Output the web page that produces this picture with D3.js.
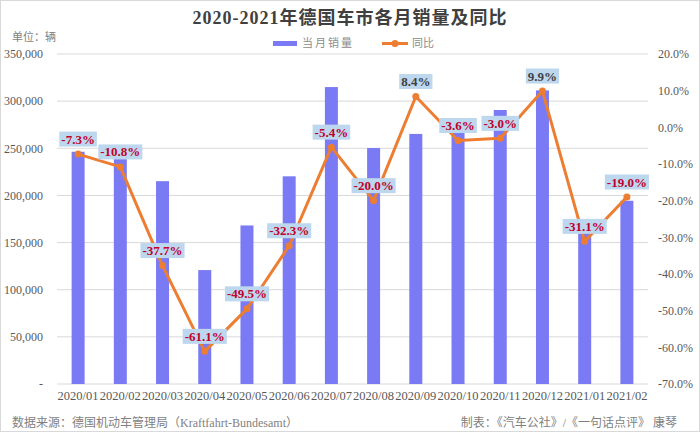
<!DOCTYPE html>
<html><head><meta charset="utf-8">
<script src="https://cdn.jsdelivr.net/npm/d3@7"></script>
<style>body{margin:0;background:#fff}svg{display:block}</style>
</head><body><svg id="c" width="700" height="432"></svg>
<script>
const months = ["2020/01","2020/02","2020/03","2020/04","2020/05","2020/06","2020/07","2020/08","2020/09","2020/10","2020/11","2020/12","2021/01","2021/02"];
const sales = [246300,239943,215119,120840,168148,220272,314938,250250,265227,271348,290604,311394,169754,194349];
const yoy = [-7.3,-10.8,-37.7,-61.1,-49.5,-32.3,-5.4,-20.0,8.4,-3.6,-3.0,9.9,-31.1,-19.0];
const leftTicks = [0,50000,100000,150000,200000,250000,300000,350000];
const rightTicks = [-70,-60,-50,-40,-30,-20,-10,0,10,20];
const title = "2020-2021年德国车市各月销量及同比";
const unitText = "单位：辆";
const sourceText = "数据来源：德国机动车管理局（Kraftfahrt-Bundesamt）";
const creditText = "制表：《汽车公社》/《一句话点评》 康琴";
const legendNames = ["当月销量","同比"];

const serif = "'Liberation Serif','Times New Roman','Noto Sans CJK SC',serif";
const svg = d3.select("#c");
svg.append("rect").attr("x",0.5).attr("y",0.5).attr("width",699).attr("height",431)
  .attr("fill","#fff").attr("stroke","#d9d9d9");

const L = 57, R = 648, T = 54, B = 384;
const x = d3.scaleBand().domain(months).range([L,R]);
const yL = d3.scaleLinear().domain([0,350000]).range([B,T]);
const yR = d3.scaleLinear().domain([-70,20]).range([B,T]);

// gridlines
svg.append("g").selectAll("line").data(leftTicks).join("line")
  .attr("x1",L).attr("x2",R).attr("y1",d=>yL(d)).attr("y2",d=>yL(d))
  .attr("stroke","#d9d9d9").attr("stroke-width",1);

// left axis
const axL = svg.append("g").attr("transform",`translate(${L},0)`)
  .call(d3.axisLeft(yL).tickValues(leftTicks).tickSize(0).tickPadding(14)
    .tickFormat(d=> d===0 ? "-" : d3.format(",")(d)));
axL.select(".domain").remove();
axL.selectAll("text").attr("font-family",serif).attr("font-size",12).attr("fill","#595959");

// right axis
const axR = svg.append("g").attr("transform",`translate(${R},0)`)
  .call(d3.axisRight(yR).tickValues(rightTicks).tickSize(0).tickPadding(10)
    .tickFormat(d=> d.toFixed(1)+"%"));
axR.select(".domain").remove();
axR.selectAll("text").attr("font-family",serif).attr("font-size",12).attr("fill","#595959");

// x axis
const axX = svg.append("g").attr("transform",`translate(0,${B})`)
  .call(d3.axisBottom(x).tickSize(0).tickPadding(7));
axX.select(".domain").remove();
axX.selectAll("text").attr("font-family",serif).attr("font-size",12.5).attr("fill","#595959");

// bars
const bw = 13;
svg.append("g").selectAll("rect").data(months).join("rect")
  .attr("x",(d)=>x(d)+x.bandwidth()/2-bw/2).attr("width",bw)
  .attr("y",(d,i)=>yL(sales[i])).attr("height",(d,i)=>B-yL(sales[i]))
  .attr("fill","#7a7af5");

// line
const pts = months.map((m,i)=>[x(m)+x.bandwidth()/2, yR(yoy[i])]);
svg.append("path").attr("d",d3.line()(pts)).attr("fill","none")
  .attr("stroke","#ed7d31").attr("stroke-width",3).attr("stroke-linejoin","round");
svg.append("g").selectAll("circle").data(pts).join("circle")
  .attr("cx",d=>d[0]).attr("cy",d=>d[1]).attr("r",3.5).attr("fill","#ed7d31");

// labels
const lg = svg.append("g");
pts.forEach((p,i)=>{
  const g = lg.append("g");
  const t = g.append("text").attr("x",p[0]).attr("y",p[1]-15).attr("text-anchor","middle")
    .attr("dominant-baseline","central")
    .attr("font-family",serif).attr("font-weight","bold").attr("font-size",13)
    .attr("fill", yoy[i] < 0 ? "#c0002a" : "#404040")
    .text(yoy[i].toFixed(1)+"%");
  const bb = t.node().getBBox();
  g.insert("rect","text").attr("x",bb.x-2).attr("y",p[1]-15-7.5).attr("width",bb.width+4).attr("height",15)
    .attr("fill","#bdd7ee");
});

// title
svg.append("text").attr("x",350).attr("y",24).attr("text-anchor","middle")
  .attr("font-family",serif).attr("font-weight","bold").attr("font-size",18)
  .attr("letter-spacing",1).attr("fill","#404040").text(title);

// unit
svg.append("text").attr("x",12).attr("y",41).attr("font-family",serif)
  .attr("font-size",11).attr("fill","#7f7f7f").text(unitText);

// legend
svg.append("rect").attr("x",273).attr("y",41).attr("width",24).attr("height",5).attr("fill","#7a7af5");
svg.append("text").attr("x",302).attr("y",47).attr("font-family",serif).attr("font-size",11)
  .attr("fill","#8c8c8c").attr("letter-spacing",2).text(legendNames[0]);
svg.append("line").attr("x1",382).attr("x2",408).attr("y1",43.5).attr("y2",43.5)
  .attr("stroke","#ed7d31").attr("stroke-width",3);
svg.append("circle").attr("cx",395).attr("cy",43.5).attr("r",3.5).attr("fill","#ed7d31");
svg.append("text").attr("x",412).attr("y",47).attr("font-family",serif).attr("font-size",11)
  .attr("fill","#8c8c8c").text(legendNames[1]);

// footer
svg.append("text").attr("x",12).attr("y",427).attr("font-family",serif).attr("font-size",12)
  .attr("fill","#7f7f7f").text(sourceText);
svg.append("text").attr("x",677).attr("y",427).attr("text-anchor","end").attr("font-family",serif).attr("font-size",12)
  .attr("fill","#7f7f7f").text(creditText);
</script></body></html>
